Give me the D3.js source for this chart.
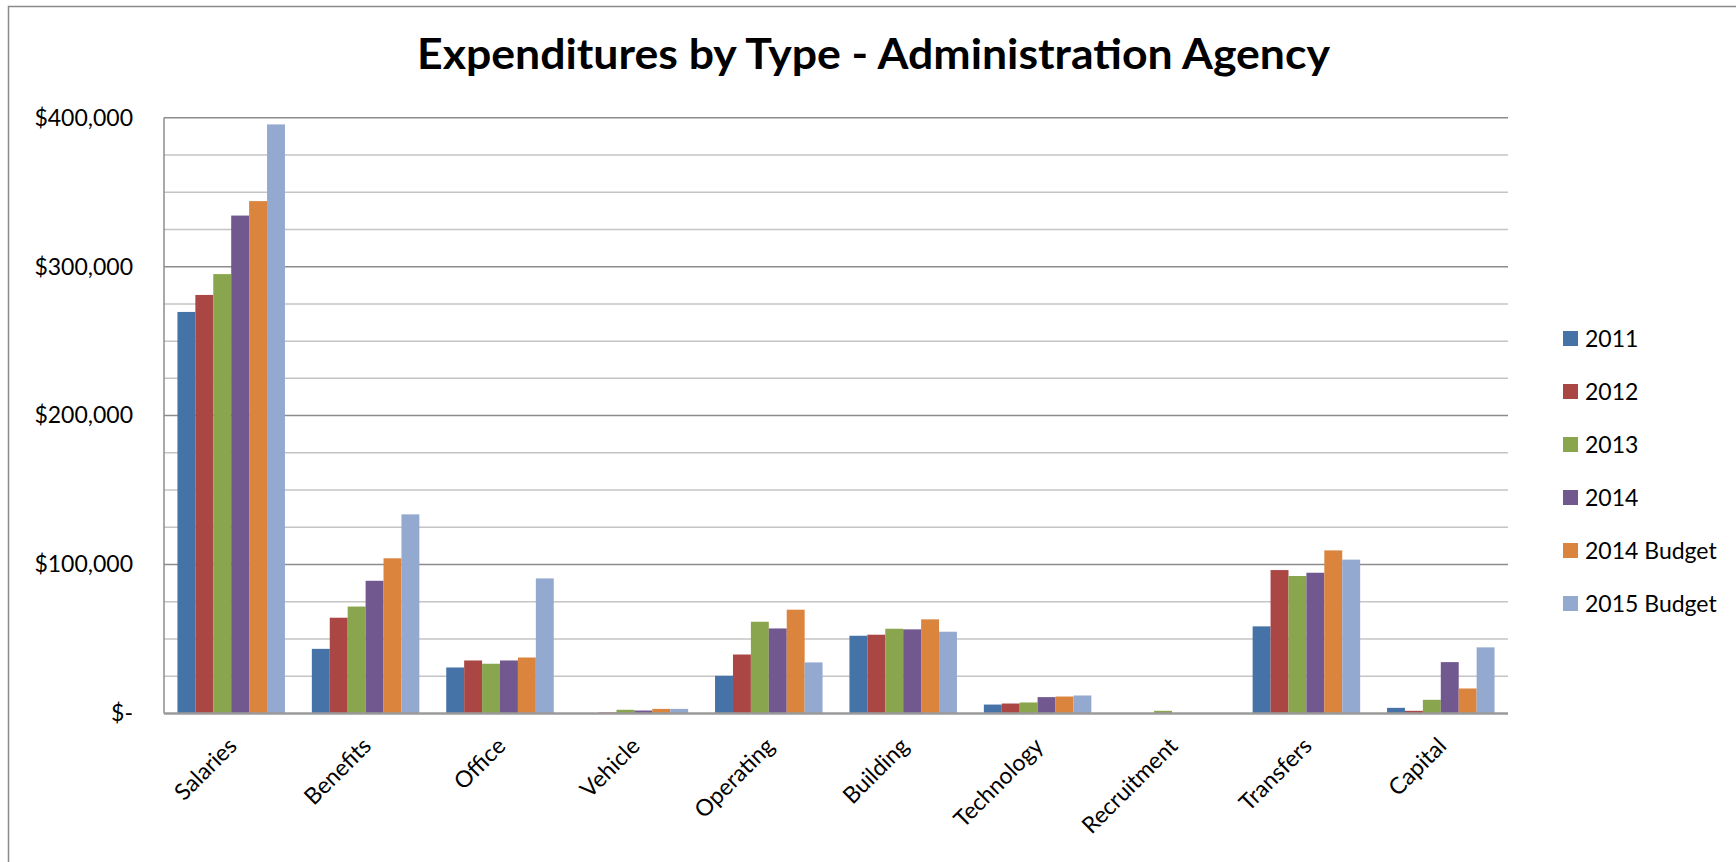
<!DOCTYPE html>
<html>
<head>
<meta charset="utf-8">
<script src="https://cdn.jsdelivr.net/npm/d3@7"></script>
<style>
  html, body { margin: 0; padding: 0; background: #ffffff; }
  svg { display: block; }
  text { font-family: Lato, "Open Sans", sans-serif; fill: #000; }
</style>
</head>
<body>
<svg id="chart" width="1736" height="862"></svg>
<script>
// Expenditure categories and series
const categories = ["Salaries", "Benefits", "Office", "Vehicle", "Operating",
                    "Building", "Technology", "Recruitment", "Transfers", "Capital"];
const seriesNames = ["2011", "2012", "2013", "2014", "2014 Budget", "2015 Budget"];
const seriesColors = ["#4572A7", "#AA4643", "#89A54E", "#71588F", "#DB843D", "#93A9CF"];

const values2011    = [269600,  43400, 30900,  300, 25300, 52200,  6000,    0,  58500,  3800];
const values2012    = [281000,  64300, 35600,  700, 39600, 52900,  6700,    0,  96300,  1800];
const values2013    = [295000,  71800, 33400, 2500, 61600, 56900,  7400, 1800,  92300,  9200];
const values2014    = [334300,  89100, 35600, 2000, 57100, 56500, 11000,    0,  94500, 34500];
const values2014Bud = [344000, 104200, 37600, 3100, 69700, 63200, 11400,    0, 109500, 16800];
const values2015Bud = [395500, 133700, 90700, 3100, 34300, 54900, 12100,    0, 103300, 44400];

const majorTicks = [0, 100000, 200000, 300000, 400000];
const minorTicks = d3.range(0, 400001, 25000);
const yMax = 400000;

const seriesValues = [values2011, values2012, values2013, values2014, values2014Bud, values2015Bud];

const svg = d3.select("#chart");
const plot = { left: 164, right: 1508, top: 117.7, bottom: 713.5 };

// Chart-area border (runs off the right and bottom edges)
svg.append("rect")
  .attr("x", 8.5).attr("y", 6.5)
  .attr("width", 1900).attr("height", 1000)
  .attr("fill", "none").attr("stroke", "#8a8a8a").attr("stroke-width", 1.5);

// Title
svg.append("text")
  .attr("x", 417).attr("y", 69)
  .attr("text-anchor", "start")
  .attr("font-size", 42).attr("font-weight", 700)
  .attr("textLength", 913)
  .attr("lengthAdjust", "spacingAndGlyphs")
  .text("Expenditures by Type - Administration Agency");

const x0 = d3.scaleBand()
  .domain(categories)
  .range([plot.left, plot.right])
  .paddingInner(0.2).paddingOuter(0.1);

const x1 = d3.scaleBand()
  .domain(seriesNames)
  .range([0, x0.bandwidth()]);

const y = d3.scaleLinear()
  .domain([0, yMax])
  .range([plot.bottom, plot.top]);

// Minor gridlines
svg.append("g")
  .selectAll("line")
  .data(minorTicks.filter(v => !majorTicks.includes(v)))
  .join("line")
  .attr("x1", plot.left).attr("x2", plot.right)
  .attr("y1", d => y(d)).attr("y2", d => y(d))
  .attr("stroke", "#c4c4c4").attr("stroke-width", 1.5);

// Major gridlines
svg.append("g")
  .selectAll("line")
  .data(majorTicks.filter(v => v > 0))
  .join("line")
  .attr("x1", plot.left).attr("x2", plot.right)
  .attr("y1", d => y(d)).attr("y2", d => y(d))
  .attr("stroke", "#8c8c8c").attr("stroke-width", 1.5);

// Bars
const rows = categories.map((c, i) => ({
  category: c,
  values: seriesNames.map((s, j) => ({ series: s, color: seriesColors[j], value: seriesValues[j][i] }))
}));

svg.append("g")
  .selectAll("g")
  .data(rows)
  .join("g")
  .attr("transform", d => `translate(${x0(d.category)},0)`)
  .selectAll("rect")
  .data(d => d.values)
  .join("rect")
  .attr("x", d => x1(d.series))
  .attr("width", x1.bandwidth())
  .attr("y", d => y(d.value))
  .attr("height", d => y(0) - y(d.value))
  .attr("fill", d => d.color);

// Axis lines
svg.append("line")
  .attr("x1", plot.left).attr("x2", plot.left)
  .attr("y1", plot.top).attr("y2", plot.bottom)
  .attr("stroke", "#8c8c8c").attr("stroke-width", 1.5);
svg.append("line")
  .attr("x1", plot.left).attr("x2", plot.right)
  .attr("y1", plot.bottom).attr("y2", plot.bottom)
  .attr("stroke", "#9a9a9a").attr("stroke-width", 2.5);

// Y axis labels
const yAxis = d3.axisLeft(y)
  .tickValues(majorTicks)
  .tickSize(0)
  .tickPadding(0)
  .tickFormat(v => v === 0 ? "$-" : "$" + d3.format(",")(v));

const yG = svg.append("g")
  .attr("transform", "translate(133,0)")
  .call(yAxis);
yG.select(".domain").remove();
yG.selectAll("text")
  .attr("font-size", 23)
  .attr("font-family", "Lato, 'Open Sans', sans-serif")
  .attr("fill", "#000");

// X axis labels, rotated
const xAxis = d3.axisBottom(x0).tickSize(0).tickPadding(0);
const xG = svg.append("g")
  .attr("transform", `translate(0,${plot.bottom})`)
  .call(xAxis);
xG.select(".domain").remove();
xG.selectAll("text")
  .attr("font-size", 23)
  .attr("font-family", "Lato, 'Open Sans', sans-serif")
  .attr("fill", "#000")
  .attr("text-anchor", "end")
  .attr("dy", 0)
  .attr("y", 0)
  .attr("transform", "translate(7,34) rotate(-45)");

// Legend
const legend = svg.append("g")
  .selectAll("g")
  .data(seriesNames)
  .join("g")
  .attr("transform", (d, i) => `translate(1563,${338.5 + i * 53})`);

legend.append("rect")
  .attr("x", 0).attr("y", -7.5)
  .attr("width", 15).attr("height", 15)
  .attr("fill", (d, i) => seriesColors[i]);

legend.append("text")
  .attr("x", 22).attr("y", 0)
  .attr("dy", "0.36em")
  .attr("font-size", 23)
  .text(d => d);
</script>
</body>
</html>
